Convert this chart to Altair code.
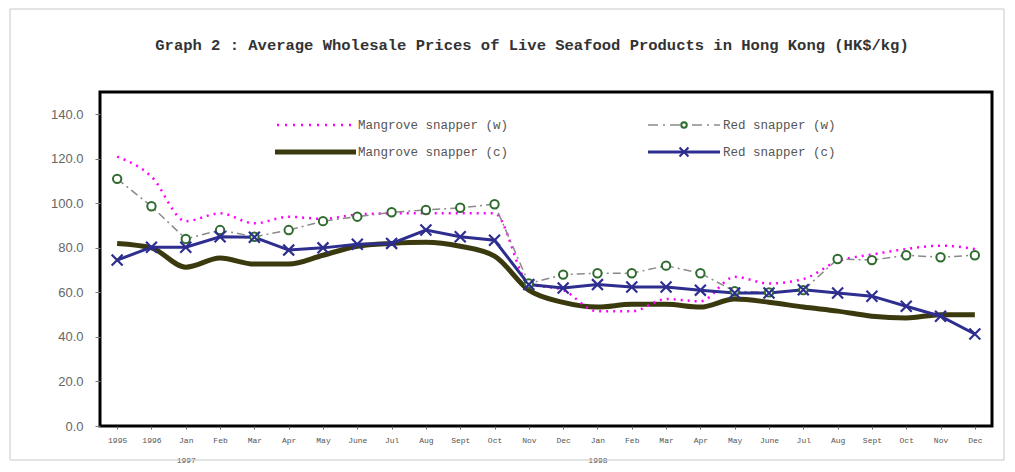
import altair as alt
import pandas as pd

# ---- data ----
months = ["1995", "1996", "Jan", "Feb", "Mar", "Apr", "May", "June", "Jul", "Aug", "Sept", "Oct", "Nov", "Dec",
          "Jan", "Feb", "Mar", "Apr", "May", "June", "Jul", "Aug", "Sept", "Oct", "Nov", "Dec"]
years = ["", "", "1997", "", "", "", "", "", "", "", "", "", "", "",
         "1998", "", "", "", "", "", "", "", "", "", "", ""]

mangrove_w = [121, 112, 92, 95.5, 91, 94, 93, 95, 95.5, 95.5, 95.5, 95.5, 64, 61,
              51.5, 51.5, 57, 56, 67, 64, 66, 74, 77, 79.5, 81, 79.5]
red_w = [111, 98.7, 84, 88, 85, 88, 92, 94, 96, 97, 98, 99.6, 64, 68,
         68.6, 68.6, 72, 68.6, 60.5, 60, 61, 75, 74.5, 76.7, 75.8, 76.7]
mangrove_c = [82, 80, 71.3, 75.4, 72.7, 72.7, 76.7, 80.7, 82, 82.5, 80.7, 76.3, 61, 55.5,
              53.4, 54.7, 54.7, 53.4, 57, 55.6, 53.4, 51.6, 49.3, 48.5, 50, 50]
red_c = [74.5, 80.3, 80.3, 85, 84.8, 79, 80, 81.6, 82, 88, 85, 83.4, 63.5, 62,
         63.5, 62.4, 62.4, 61, 59.7, 59.7, 61.2, 59.7, 58.3, 53.8, 49.3, 41.3]

series_names = ["Mangrove snapper (w)", "Red snapper (w)", "Mangrove snapper (c)", "Red snapper (c)"]
y_ticks = [0, 20, 40, 60, 80, 100, 120, 140]

title_text = "Graph 2 : Average Wholesale Prices of Live Seafood Products in Hong Kong (HK$/kg)"

df = pd.DataFrame({
    "idx": list(range(len(months))),
    "mw": mangrove_w,
    "rw": red_w,
    "mc": mangrove_c,
    "rc": red_c,
})

# multi-line labels
parts = []
for m, y in zip(months, years):
    if y:
        parts.append("['%s','%s']" % (m, y))
    else:
        parts.append("['%s']" % m)
label_expr = "[" + ",".join(parts) + "][datum.value]"

MAGENTA = "#FF00FF"
GRAY = "#8a8a8a"
GREEN = "#2E6B2E"
OLIVE = "#3A3A0E"
NAVY = "#2E2E90"
XPATH = "M-1,-1L1,1M-1,1L1,-1"

x_enc = alt.X(
    "idx:O",
    scale=alt.Scale(type="point", padding=0.5),
    axis=alt.Axis(
        title=None, labelExpr=label_expr, labelAngle=0, labelFont="Liberation Mono",
        labelFontSize=8, labelColor="#555555", labelLineHeight=20, labelPadding=7,
        ticks=True, tickSize=3, tickColor="#666666", domain=False, grid=False,
        labelBaseline="top",
    ),
)
y_scale = alt.Scale(domain=[0, 150], nice=False)
y_axis = alt.Axis(
    title=None, values=y_ticks, format=".1f", labelFont="Liberation Sans", labelFontSize=13,
    labelColor="#666666", tickSize=5, tickColor="#777777", labelPadding=12, domain=False, grid=False,
)

base = alt.Chart(df)

olive_line = base.mark_line(color=OLIVE, strokeWidth=5, interpolate="monotone").encode(
    x=x_enc, y=alt.Y("mc:Q", scale=y_scale, axis=y_axis))
magenta_line = base.mark_line(color=MAGENTA, strokeWidth=2.5, strokeDash=[2, 5], interpolate="monotone").encode(
    x=x_enc, y=alt.Y("mw:Q", scale=y_scale))
gray_line = base.mark_line(color=GRAY, strokeWidth=1.5, strokeDash=[8, 4, 2, 4]).encode(
    x=x_enc, y=alt.Y("rw:Q", scale=y_scale))
navy_line = base.mark_line(color=NAVY, strokeWidth=3).encode(
    x=x_enc, y=alt.Y("rc:Q", scale=y_scale))
circles = base.mark_point(shape="circle", filled=True, fill="white", stroke=GREEN, strokeWidth=2,
                          size=70, opacity=1).encode(x=x_enc, y=alt.Y("rw:Q", scale=y_scale))
crosses = base.mark_point(shape=XPATH, filled=False, stroke=NAVY, strokeWidth=2.2, size=120,
                          opacity=1).encode(x=x_enc, y=alt.Y("rc:Q", scale=y_scale))

# ---- custom legend ----
one = alt.Data(values=[{"a": 1}])
leg = []
leg.append(alt.Chart(one).mark_rule(color=MAGENTA, strokeWidth=2.5, strokeDash=[2, 6]).encode(
    x=alt.value(177), x2=alt.value(256), y=alt.value(33)))
leg.append(alt.Chart(one).mark_rule(color=OLIVE, strokeWidth=5).encode(
    x=alt.value(175), x2=alt.value(256), y=alt.value(60)))
leg.append(alt.Chart(one).mark_rule(color=GRAY, strokeWidth=1.5, strokeDash=[10, 5, 2, 5]).encode(
    x=alt.value(548), x2=alt.value(620), y=alt.value(33)))
leg.append(alt.Chart(one).mark_point(shape="circle", filled=True, fill="white", stroke=GREEN,
                                      strokeWidth=2, size=30, opacity=1).encode(
    x=alt.value(584), y=alt.value(33)))
leg.append(alt.Chart(one).mark_rule(color=NAVY, strokeWidth=3).encode(
    x=alt.value(548), x2=alt.value(620), y=alt.value(60)))
leg.append(alt.Chart(one).mark_point(shape=XPATH, filled=False, stroke=NAVY, strokeWidth=2.2,
                                      size=80, opacity=1).encode(
    x=alt.value(584), y=alt.value(60)))
text_pos = [(258, 33), (623, 33), (258, 60), (623, 60)]
for name, (tx, ty) in zip(series_names, text_pos):
    leg.append(alt.Chart(one).mark_text(align="left", baseline="middle", font="Liberation Mono",
                                        fontSize=12.5, color="#555555").encode(
        x=alt.value(tx), y=alt.value(ty), text=alt.value(name)))

# title as text mark
title_mark = alt.Chart(one).mark_text(align="center", baseline="middle", font="Liberation Mono",
                                      fontSize=15.5, fontWeight="bold", color="#333333").encode(
    x=alt.value(432), y=alt.value(-47), text=alt.value(title_text))

# outer light frame
frame = alt.Chart(one).mark_rect(fill=None, stroke="#c8c8c8", strokeWidth=1).encode(
    x=alt.value(-90), x2=alt.value(904), y=alt.value(-83), y2=alt.value(368))

chart = alt.layer(
    frame, title_mark, olive_line, magenta_line, gray_line, navy_line, circles, crosses, *leg
).properties(
    width=892,
    height=334,
    padding={"left": 92, "top": 84, "right": 14, "bottom": 44},
    autosize=alt.AutoSizeParams(type="none"),
    background="white",
).configure_view(
    stroke="#000000", strokeWidth=3
)

chart.save("out.html", embed_options={"renderer": "svg", "actions": False})
